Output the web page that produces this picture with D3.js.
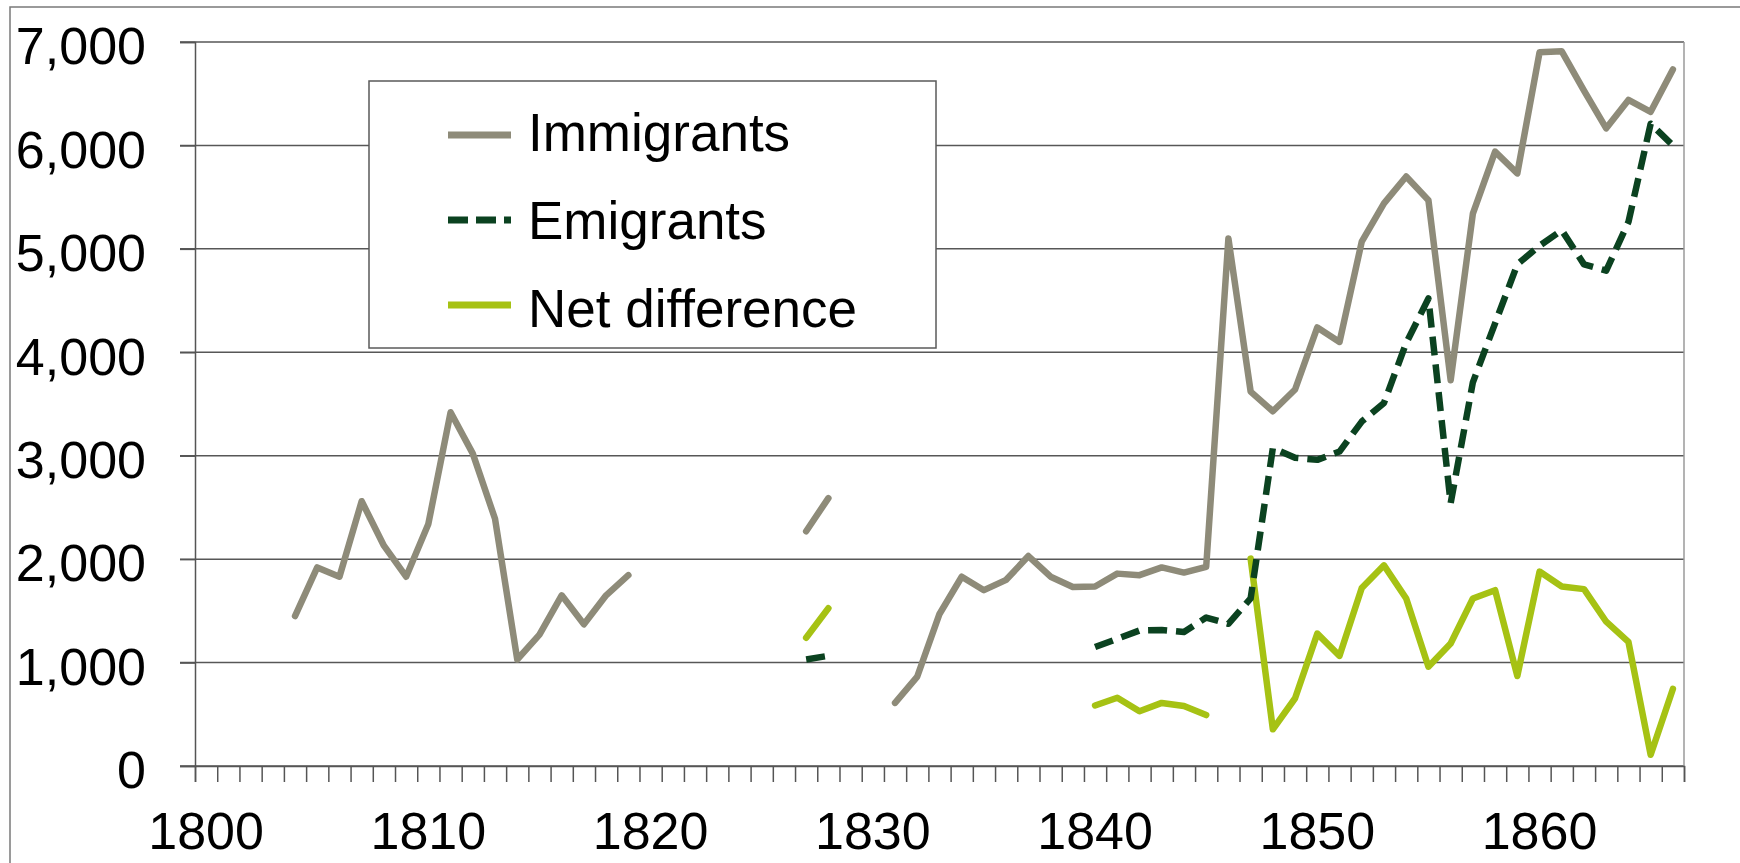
<!DOCTYPE html>
<html>
<head>
<meta charset="utf-8">
<script src="https://cdn.jsdelivr.net/npm/d3@7"></script>
<style>
  html, body { margin: 0; padding: 0; background: #ffffff; }
  svg { display: block; }
  text { font-family: "Liberation Sans", Arial, Helvetica, sans-serif; fill: #000; }
</style>
</head>
<body>
<script>
// ---------- data ----------
const years = d3.range(1800, 1867);
const yTicks = [0, 1000, 2000, 3000, 4000, 5000, 6000, 7000];
const xLabelYears = [1800, 1810, 1820, 1830, 1840, 1850, 1860];
const seriesNames = ["Immigrants", "Emigrants", "Net difference"];

const immigrants = [
  null, null, null, null,
  1450, 1920, 1830, 2560, 2130, 1830, 2340, 3420, 3020, 2390, 1030, 1270, 1650, 1370, 1650, 1845,
  null, null, null, null, null, null, null,
  2270, 2590,
  null, null,
  610, 865, 1470, 1830, 1700, 1800, 2030, 1830, 1730, 1735, 1860, 1845, 1920, 1870, 1925,
  5100, 3620, 3430, 3640, 4240, 4100, 5070, 5440, 5700, 5470, 3730, 5340, 5940, 5730,
  6900, 6910, 6530, 6165, 6440, 6325, 6735
];
const emigrants = [
  null, null, null, null, null, null, null, null, null, null,
  null, null, null, null, null, null, null, null, null, null,
  null, null, null, null, null, null, null,
  1030, 1065,
  null, null, null, null, null, null, null, null, null, null, null,
  1150, 1230, 1310, 1315, 1295, 1435, 1375, 1620, 3075, 2980,
  2960, 3040, 3330, 3510, 4090, 4520, 2540, 3710, 4280, 4850,
  5030, 5180, 4850, 4790, 5260, 6210, 6000
];
const netDifference = [
  null, null, null, null, null, null, null, null, null, null,
  null, null, null, null, null, null, null, null, null, null,
  null, null, null, null, null, null, null,
  1240, 1525,
  null, null, null, null, null, null, null, null, null, null, null,
  585, 660, 530, 610, 580, 492, null, 2005, 355, 655,
  1280, 1065, 1720, 1940, 1620, 960, 1185, 1620, 1700, 870,
  1880, 1735, 1710, 1395, 1200, 108, 745
];

// ---------- layout ----------
const W = 1740, H = 863;
const plotL = 195, plotR = 1684, plotT = 42, plotB = 766;
const colors = { imm: "#8e8b79", emi: "#0b4220", net: "#a6c214" };

const svg = d3.select("body").append("svg").attr("width", W).attr("height", H);
svg.append("rect").attr("width", W).attr("height", H).attr("fill", "#fff");

// outer chart border
svg.append("rect").attr("x", 10).attr("y", 7).attr("width", W).attr("height", H + 10)
  .attr("fill", "none").attr("stroke", "#7a7a7a").attr("stroke-width", 1.5);

const x = d3.scaleBand().domain(years).range([plotL, plotR]).paddingInner(0).paddingOuter(0);
const xi = d3.scaleLinear().domain([0, years.length]).range([plotL, plotR]);
const y = d3.scaleLinear().domain([0, 7000]).range([plotB, plotT]);

// gridlines
svg.append("g").selectAll("line").data(yTicks).join("line")
  .attr("x1", plotL - 15).attr("x2", plotR)
  .attr("y1", d => y(d)).attr("y2", d => y(d))
  .attr("stroke", "#575757").attr("stroke-width", 1.5);

// plot right border
svg.append("line").attr("x1", plotR).attr("x2", plotR).attr("y1", y(7000)).attr("y2", y(0))
  .attr("stroke", "#9a9a9a").attr("stroke-width", 1.5);

// y axis
const yAxis = svg.append("g").attr("transform", `translate(${plotL},0)`)
  .call(d3.axisLeft(y).tickValues(yTicks).tickSize(15).tickPadding(34).tickFormat(d3.format(",")));
yAxis.select(".domain").attr("stroke", "#555").attr("stroke-width", 1.5);
yAxis.selectAll(".tick line").attr("stroke", "#555").attr("stroke-width", 1.5);
yAxis.selectAll("text").attr("font-size", 52).attr("dy", "0.42em")
  .style("font-family", '"Liberation Sans", Arial, sans-serif').attr("fill", "#000");

// x axis: category boundary ticks
const xTickAxis = svg.append("g").attr("transform", `translate(0,${plotB})`)
  .call(d3.axisBottom(xi).tickValues(d3.range(years.length + 1)).tickSize(16).tickFormat(""));
xTickAxis.select(".domain").attr("stroke", "#555").attr("stroke-width", 1.5);
xTickAxis.selectAll(".tick line").attr("stroke", "#555").attr("stroke-width", 1.5);

// x axis labels centered on categories
const xLabAxis = svg.append("g").attr("transform", `translate(0,${plotB})`)
  .call(d3.axisBottom(x).tickValues(xLabelYears).tickSize(0).tickPadding(46));
xLabAxis.select(".domain").remove();
xLabAxis.selectAll("text").attr("font-size", 52)
  .style("font-family", '"Liberation Sans", Arial, sans-serif').attr("fill", "#000");

// lines
const cx = (d, i) => x(years[i]) + x.bandwidth() / 2;
const line = d3.line().defined(d => d != null).x(cx).y(d => y(d));

svg.append("path").datum(immigrants).attr("d", line)
  .attr("fill", "none").attr("stroke", colors.imm).attr("stroke-width", 6.5)
  .attr("stroke-linejoin", "round").attr("stroke-linecap", "round");

svg.append("path").datum(netDifference).attr("d", line)
  .attr("fill", "none").attr("stroke", colors.net).attr("stroke-width", 6.5)
  .attr("stroke-linejoin", "round").attr("stroke-linecap", "round");

svg.append("path").datum(emigrants).attr("d", line)
  .attr("fill", "none").attr("stroke", colors.emi).attr("stroke-width", 6.5)
  .attr("stroke-dasharray", "19,9").attr("stroke-linejoin", "round");

// legend
const lg = svg.append("g");
lg.append("rect").attr("x", 369).attr("y", 81).attr("width", 567).attr("height", 267)
  .attr("fill", "#fff").attr("stroke", "#5a5a5a").attr("stroke-width", 1.5);
const legendItems = [
  { name: seriesNames[0], color: colors.imm, dash: null, ly: 135, ty: 151 },
  { name: seriesNames[1], color: colors.emi, dash: "20,8", ly: 220, ty: 239 },
  { name: seriesNames[2], color: colors.net, dash: null, ly: 305, ty: 327 }
];
legendItems.forEach(it => {
  lg.append("line").attr("x1", 448).attr("x2", 511).attr("y1", it.ly).attr("y2", it.ly)
    .attr("stroke", it.color).attr("stroke-width", 7)
    .attr("stroke-dasharray", it.dash);
  lg.append("text").attr("x", 528).attr("y", it.ty).attr("font-size", 53).text(it.name);
});
</script>
</body>
</html>
